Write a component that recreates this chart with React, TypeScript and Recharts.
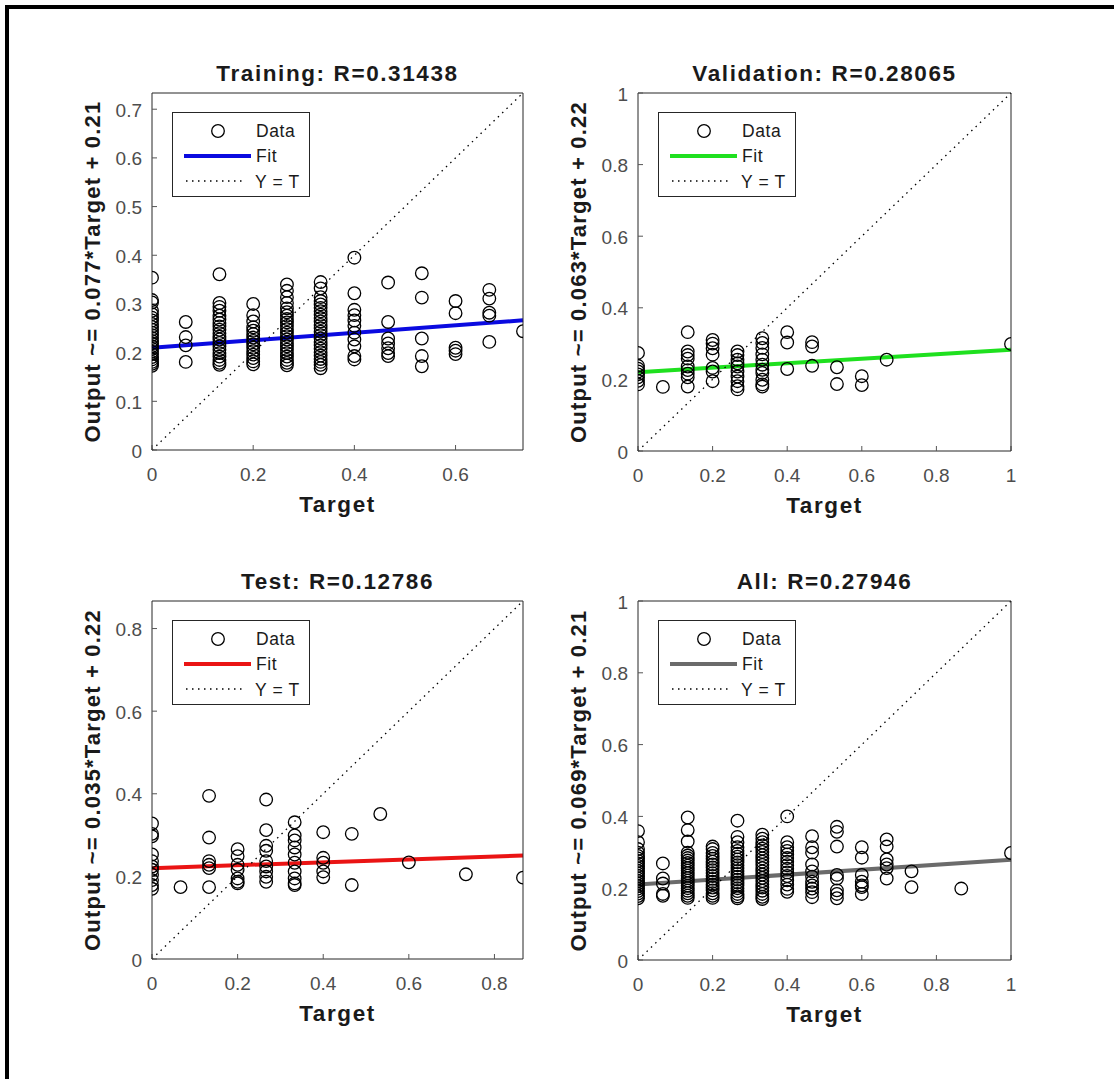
import { Label, Legend, ReferenceLine, Scatter, ScatterChart, XAxis, YAxis } from 'recharts';

// Target values (columns) and the network outputs
const trainingTargets = [0, 0.0667, 0.1333, 0.2, 0.2667, 0.3333, 0.4, 0.4667, 0.5333, 0.6, 0.6667, 0.7333];
const trainingOutputs = [
  [0.354, 0.308, 0.303, 0.286, 0.279, 0.272, 0.266, 0.259, 0.253, 0.247, 0.241, 0.236, 0.23, 0.224, 0.219, 0.213, 0.208, 0.202, 0.197, 0.191, 0.186, 0.181, 0.177, 0.173],
  [0.263, 0.232, 0.215, 0.181],
  [0.361, 0.302, 0.294, 0.286, 0.276, 0.268, 0.261, 0.254, 0.247, 0.24, 0.233, 0.227, 0.22, 0.213, 0.206, 0.199, 0.192, 0.185, 0.179, 0.175],
  [0.3, 0.277, 0.264, 0.252, 0.245, 0.238, 0.231, 0.224, 0.217, 0.21, 0.203, 0.196, 0.189, 0.182, 0.176],
  [0.34, 0.327, 0.314, 0.302, 0.291, 0.283, 0.276, 0.269, 0.262, 0.255, 0.248, 0.241, 0.234, 0.227, 0.22, 0.213, 0.206, 0.199, 0.192, 0.185, 0.179, 0.174],
  [0.345, 0.332, 0.314, 0.306, 0.299, 0.292, 0.285, 0.278, 0.271, 0.264, 0.257, 0.25, 0.243, 0.236, 0.229, 0.222, 0.215, 0.208, 0.201, 0.194, 0.187, 0.181, 0.175, 0.168],
  [0.395, 0.322, 0.288, 0.277, 0.266, 0.255, 0.241, 0.227, 0.213, 0.193, 0.186],
  [0.344, 0.263, 0.229, 0.219, 0.209, 0.199, 0.193],
  [0.363, 0.313, 0.229, 0.193, 0.172],
  [0.306, 0.281, 0.21, 0.204, 0.197],
  [0.329, 0.311, 0.282, 0.276, 0.222],
  [0.244],
];

const validationTargets = [0, 0.0667, 0.1333, 0.2, 0.2667, 0.3333, 0.4, 0.4667, 0.5333, 0.6, 0.6667, 1];
const validationOutputs = [
  [0.274, 0.238, 0.23, 0.222, 0.214, 0.206, 0.196, 0.186],
  [0.179],
  [0.332, 0.278, 0.268, 0.258, 0.236, 0.226, 0.216, 0.206, 0.18],
  [0.31, 0.3, 0.287, 0.269, 0.232, 0.222, 0.195],
  [0.278, 0.268, 0.255, 0.245, 0.236, 0.222, 0.208, 0.195, 0.181, 0.172],
  [0.315, 0.302, 0.288, 0.27, 0.255, 0.241, 0.227, 0.218, 0.199, 0.186, 0.18],
  [0.332, 0.303, 0.229],
  [0.304, 0.292, 0.238],
  [0.234, 0.187],
  [0.209, 0.184],
  [0.255],
  [0.299],
];

const testTargets = [0, 0.0667, 0.1333, 0.2, 0.2667, 0.3333, 0.4, 0.4667, 0.5333, 0.6, 0.7333, 0.8667];
const testOutputs = [
  [0.328, 0.303, 0.297, 0.253, 0.237, 0.224, 0.216, 0.204, 0.191, 0.179, 0.17],
  [0.174],
  [0.395, 0.294, 0.237, 0.228, 0.22, 0.174],
  [0.266, 0.249, 0.228, 0.216, 0.195, 0.187, 0.183],
  [0.386, 0.312, 0.274, 0.262, 0.237, 0.224, 0.212, 0.199, 0.187],
  [0.331, 0.299, 0.287, 0.27, 0.253, 0.233, 0.212, 0.195, 0.183, 0.179],
  [0.307, 0.245, 0.233, 0.212, 0.198],
  [0.303, 0.179],
  [0.351],
  [0.234],
  [0.205],
  [0.197],
];

const allTargets = [0, 0.0667, 0.1333, 0.2, 0.2667, 0.3333, 0.4, 0.4667, 0.5333, 0.6, 0.6667, 0.7333, 0.8667, 1];
const allOutputs = [
  [0.359, 0.328, 0.309, 0.299, 0.29, 0.283, 0.276, 0.269, 0.262, 0.255, 0.248, 0.241, 0.234, 0.227, 0.22, 0.213, 0.206, 0.199, 0.192, 0.185, 0.178, 0.172],
  [0.269, 0.227, 0.213, 0.184, 0.179],
  [0.397, 0.362, 0.33, 0.299, 0.291, 0.284, 0.277, 0.27, 0.263, 0.256, 0.249, 0.242, 0.235, 0.228, 0.221, 0.214, 0.207, 0.2, 0.193, 0.186, 0.179, 0.173],
  [0.316, 0.309, 0.298, 0.29, 0.282, 0.274, 0.266, 0.258, 0.25, 0.242, 0.234, 0.226, 0.218, 0.21, 0.202, 0.194, 0.186, 0.179, 0.173],
  [0.388, 0.343, 0.328, 0.314, 0.304, 0.296, 0.288, 0.28, 0.272, 0.264, 0.256, 0.248, 0.24, 0.232, 0.224, 0.216, 0.208, 0.2, 0.192, 0.184, 0.177, 0.172],
  [0.349, 0.338, 0.328, 0.319, 0.31, 0.301, 0.292, 0.283, 0.274, 0.265, 0.256, 0.247, 0.238, 0.229, 0.22, 0.211, 0.202, 0.193, 0.184, 0.176, 0.17],
  [0.4, 0.328, 0.314, 0.304, 0.294, 0.284, 0.274, 0.264, 0.254, 0.244, 0.234, 0.222, 0.21, 0.198, 0.19],
  [0.345, 0.314, 0.299, 0.266, 0.247, 0.232, 0.218, 0.208, 0.199, 0.189, 0.175],
  [0.371, 0.357, 0.316, 0.237, 0.227, 0.194, 0.184, 0.172],
  [0.314, 0.285, 0.237, 0.218, 0.208, 0.203, 0.184],
  [0.336, 0.316, 0.28, 0.266, 0.256, 0.227],
  [0.247, 0.203],
  [0.199],
  [0.298],
];

const trainingTicks = [0, 0.1, 0.2, 0.3, 0.4, 0.5, 0.6, 0.7];
const trainingXTicks = [0, 0.2, 0.4, 0.6];
const unitTicks = [0, 0.2, 0.4, 0.6, 0.8, 1];
const testTicks = [0, 0.2, 0.4, 0.6, 0.8];

const FONT = '"Liberation Sans", Arial, Helvetica, sans-serif';
// plot box sits at (100, 45) inside each chart; every axis takes 1px of it
const PAD = { top: 45, right: 30, bottom: 80, left: 100 };
const M = { top: PAD.top - 1, right: PAD.right - 1, bottom: PAD.bottom - 1, left: PAD.left - 1 };

interface Panel {
  title: string;
  yLabel: string;
  color: string;
  slope: number;
  intercept: number;
  limit: number;
  targets: number[];
  outputs: number[][];
  xTicks: number[];
  yTicks: number[];
  left: number;
  top: number;
  width: number;
  height: number;
}

const panels: Panel[] = [
  {
    title: 'Training: R=0.31438', yLabel: 'Output ~= 0.077*Target + 0.21', color: '#0a0ae0',
    slope: 0.077, intercept: 0.21, limit: 0.7333, targets: trainingTargets, outputs: trainingOutputs,
    xTicks: trainingXTicks, yTicks: trainingTicks, left: 152, top: 93, width: 371, height: 357,
  },
  {
    title: 'Validation: R=0.28065', yLabel: 'Output ~= 0.063*Target + 0.22', color: '#1fe01f',
    slope: 0.063, intercept: 0.22, limit: 1, targets: validationTargets, outputs: validationOutputs,
    xTicks: unitTicks, yTicks: unitTicks, left: 638, top: 93, width: 373, height: 358,
  },
  {
    title: 'Test: R=0.12786', yLabel: 'Output ~= 0.035*Target + 0.22', color: '#ea1414',
    slope: 0.035, intercept: 0.22, limit: 0.8667, targets: testTargets, outputs: testOutputs,
    xTicks: testTicks, yTicks: testTicks, left: 152, top: 601, width: 371, height: 358,
  },
  {
    title: 'All: R=0.27946', yLabel: 'Output ~= 0.069*Target + 0.21', color: '#6b6b6b',
    slope: 0.069, intercept: 0.21, limit: 1, targets: allTargets, outputs: allOutputs,
    xTicks: unitTicks, yTicks: unitTicks, left: 638, top: 601, width: 373, height: 359,
  },
];

function fmt(v: number) {
  return v === 0 ? '0' : String(Number(v.toFixed(1)));
}

function LegendBox({ color }: { color: string }) {
  const text = { fontFamily: FONT, fontSize: 17.5, letterSpacing: 0.6, fill: '#1a1a1a' };
  return (
    <svg width={138} height={85} style={{ display: 'block' }}>
      <rect x={0.5} y={0.5} width={137} height={84} fill="#fff" stroke="#262626" />
      <circle cx={46} cy={19} r={6.3} fill="none" stroke="#000" strokeWidth={1.3} />
      <text x={84} y={25} {...text}>Data</text>
      <line x1={12} x2={79} y1={44} y2={44} stroke={color} strokeWidth={4} />
      <text x={84} y={50} {...text}>Fit</text>
      <line x1={14} x2={73} y1={69} y2={69} stroke="#000" strokeWidth={1.3} strokeDasharray="1.5 4.5" />
      <text x={83} y={76} {...text}>Y = T</text>
    </svg>
  );
}

function RegressionPanel({ p }: { p: Panel }) {
  const data = p.targets.flatMap((t, i) => p.outputs[i].map((y) => ({ x: t, y })));
  const bottom = PAD.top + p.height;
  const midX = PAD.left + p.width / 2;
  const midY = PAD.top + p.height / 2;
  const boxLine = { stroke: '#262626', strokeWidth: 1 };
  const tickLine = { stroke: '#555', strokeWidth: 1 };

  const xTick = (props: any) => (
    <text x={props.x} y={bottom + 31} textAnchor="middle" fontFamily={FONT} fontSize={19} fill="#4d4d4d">
      {fmt(props.payload.value)}
    </text>
  );
  const yTick = (props: any) => (
    <text x={PAD.left - 10} y={props.y + 7.5} textAnchor="end" fontFamily={FONT} fontSize={19} fill="#4d4d4d">
      {fmt(props.payload.value)}
    </text>
  );
  const bold = { fontFamily: FONT, fontSize: 22, fontWeight: 700, letterSpacing: 1.2, fill: '#1a1a1a' } as const;
  const wide = { ...bold, fontSize: 22.5, letterSpacing: 1.6 } as const;

  return (
    <div style={{ position: 'absolute', left: p.left - PAD.left, top: p.top - PAD.top }}>
      <ScatterChart width={p.width + PAD.left + PAD.right} height={p.height + PAD.top + PAD.bottom} margin={M}>
        <XAxis
          type="number" dataKey="x" domain={[0, p.limit]} ticks={p.xTicks} allowDataOverflow
          height={1} tickSize={-5} axisLine={boxLine} tickLine={tickLine} tick={xTick}
        >
          <Label content={() => <text x={midX} y={bottom + 62} textAnchor="middle" {...wide}>Target</text>} />
        </XAxis>
        <XAxis
          xAxisId="top" orientation="top" type="number" domain={[0, p.limit]} ticks={p.xTicks} allowDataOverflow
          height={1} tickSize={-5} axisLine={boxLine} tickLine={tickLine} tick={false}
        >
          <Label content={() => <text x={midX} y={PAD.top - 12} textAnchor="middle" {...wide}>{p.title}</text>} />
        </XAxis>
        <YAxis
          type="number" dataKey="y" domain={[0, p.limit]} ticks={p.yTicks} allowDataOverflow
          width={1} tickSize={-5} axisLine={boxLine} tickLine={tickLine} tick={yTick}
        >
          <Label
            content={() => (
              <text x={PAD.left - 52} y={midY} textAnchor="middle" transform={`rotate(-90, ${PAD.left - 52}, ${midY})`} {...bold}>
                {p.yLabel}
              </text>
            )}
          />
        </YAxis>
        <YAxis
          yAxisId="right" orientation="right" type="number" domain={[0, p.limit]} ticks={p.yTicks} allowDataOverflow
          width={1} tickSize={-5} axisLine={boxLine} tickLine={tickLine} tick={false}
        />
        <Scatter
          data={data}
          isAnimationActive={false}
          shape={(s: any) => <circle cx={s.cx} cy={s.cy} r={6.3} fill="none" stroke="#000" strokeWidth={1.3} />}
        />
        <ReferenceLine
          segment={[{ x: 0, y: p.intercept }, { x: p.limit, y: p.slope * p.limit + p.intercept }]}
          stroke={p.color} strokeWidth={4}
        />
        <ReferenceLine
          segment={[{ x: 0, y: 0 }, { x: p.limit, y: p.limit }]}
          stroke="#000" strokeWidth={1.3} strokeDasharray="1.5 4.5"
        />
        <Legend
          layout="horizontal" verticalAlign="middle" align="center"
          wrapperStyle={{ left: PAD.left + 20, top: PAD.top + 19, width: 138, height: 85 }}
          content={() => <LegendBox color={p.color} />}
        />
      </ScatterChart>
    </div>
  );
}

export default function App() {
  return (
    <div style={{ position: 'absolute', left: 0, top: 0, width: 1114, height: 1079, background: '#fff', overflow: 'hidden' }}>
      <div
        style={{
          position: 'absolute', left: 5, top: 5, width: 1109, height: 1074,
          borderTop: '4px solid #000', borderLeft: '4px solid #000', boxSizing: 'border-box',
        }}
      />
      {panels.map((p) => (
        <RegressionPanel key={p.title} p={p} />
      ))}
    </div>
  );
}
